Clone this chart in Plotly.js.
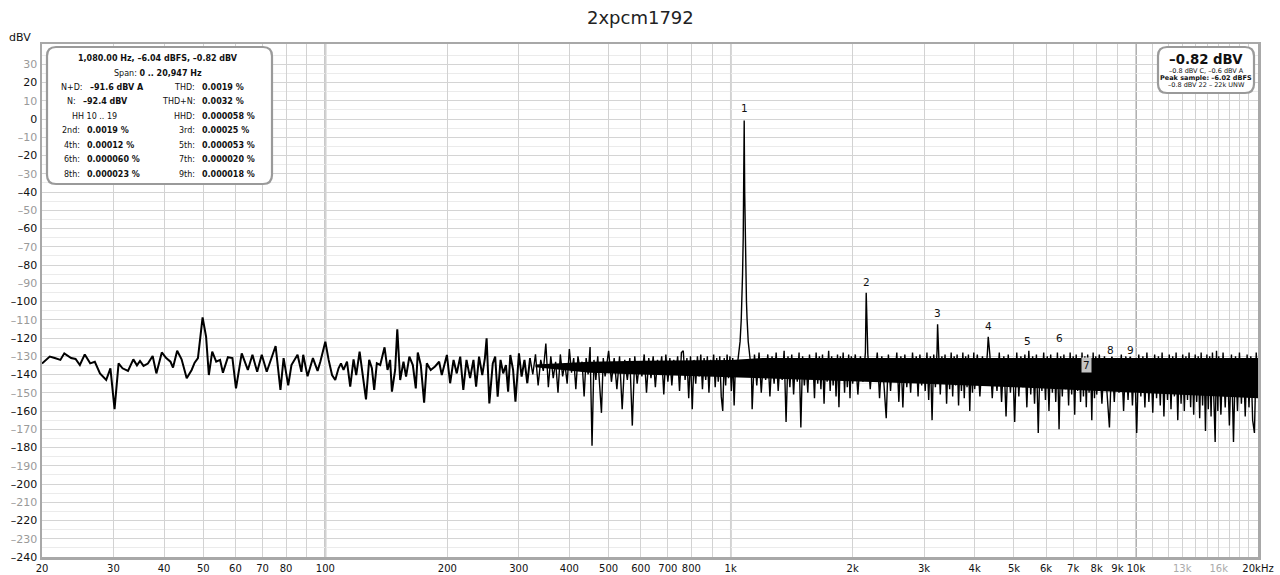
<!DOCTYPE html>
<html><head><meta charset="utf-8">
<script src="https://cdn.plot.ly/plotly-3.0.1.min.js"></script>
<style>html,body{margin:0;padding:0;background:#fff}#chart{width:1280px;height:575px}</style>
</head><body><div id="chart"></div>
<script>
// ---- spectrum data (Hz, dBV) ----
const lowFreq=[20,20.9,21.5,22.2,22.7,23.6,24.2,24.8,25.5,26.3,27.0,27.8,28.8,29.5,30.2,30.9,31.6,32.6,33.6,34.3,34.9,35.6,36.5,37.5,38.3,39.5,40.5,41.5,42.1,43.1,44.2,45.5,46.8,47.6,48.5,49.8,50.8,51.6,52.6,53.8,55,55.9,57.5,59,60.2,62.2,64.4,66.1,67.9,69.7,71.7,75.4,77.5,78.9,81,82.5,85.4,87.3,88.2,90.4,93.2,95.7,97.2,100,101.9,103.9,105.8,107.8,109.3,110.9,113.1,115.2,117.4,119.2,121.5,123.8,126,128.3,130.3,132,134,136.6,140,142.4,144.5,146,148.7,150.5,153,155.9,158.2,161.2,164.4,167.2,169.1,172,175.3,178,182,186.5,190.9,193.8,199.5,203.2,207.2,211,215.2,219,223,227.6,232,235.5,239.5,243.9,247.6,250,253.9,258.9,262.5,266.2,270.6,274.7,279,282.5,286,290.6,294.5,300.4,305,310,315];
const lowLevel=[-134,-130.2,-131,-132,-128.4,-131,-131.5,-134.8,-129,-133.9,-133,-139.4,-143,-136.6,-159,-133.9,-136.6,-138,-131.7,-135,-132.6,-135.3,-134,-129.9,-139.4,-127.9,-131,-133,-136.2,-127,-131.7,-142,-137.5,-133.5,-131,-108.7,-119.3,-140.3,-127.5,-133,-132,-139,-130.5,-131,-147.6,-128.4,-137.5,-129.2,-138.5,-129.2,-138.5,-124.4,-148.5,-131,-146,-134.8,-129.2,-138.5,-129.2,-141,-131,-138,-133,-122,-132,-140.3,-143,-136.6,-133.9,-137.5,-133,-146.7,-131.7,-140.3,-127.5,-141.2,-153.6,-132,-136.6,-148.5,-133.9,-134.8,-125.1,-137.5,-132,-149.4,-137.5,-115.2,-143,-133,-141.2,-130.2,-134.8,-147.6,-128,-134.8,-155.4,-133.9,-137.5,-135.6,-133,-140.3,-129.3,-144.8,-132,-139.4,-130.2,-148.5,-132,-142,-132,-146.7,-130.2,-140.3,-131,-120.2,-155.8,-133.9,-130.2,-152.2,-132,-139.4,-134.8,-149.4,-129.3,-137.5,-154.9,-128.4,-141.2,-132,-144.8];

const midAFreq=[320,325,330,335,340,345,350,355,360,365,370,375,380,385,390,395,400,405,410,415,420,425,430,435,440,445,450,455,460,465,470,475,480,485,490,495,500];
const midALevel=[-131,-140,-129,-146,-132,-138,-123,-147,-130,-142,-133,-150,-129,-141,-134,-145,-126,-139,-131,-148,-130,-137,-133,-152,-131,-140,-125,-179,-132,-143,-130,-146,-161,-131,-141,-134,-127];

const midBFreq=[508,516,524,532,540,548,556,564,572,580,588,596,604,612,620,628,636,644,652,660,668,676,684,692,700,708,716,724,732,740,748,756,764,772,780,788,796,804,812,820,828,836,844,852,860,868,876,884,892,900,908,916,924,932,940,948,956,964,972,980,988,996,1004,1012,1020,1028];
const midBLevel=[-144,-131,-148,-130,-159,-132,-143,-131,-168,-130,-145,-133,-141,-129,-150,-131,-142,-130,-147,-132,-139,-130,-151,-129,-144,-131,-146,-132,-140,-130,-149,-128,-127,-143,-131,-153,-130,-159,-132,-145,-130,-141,-129,-148,-131,-143,-130,-150,-132,-140,-129,-147,-131,-144,-130,-152,-160,-131,-146,-129,-142,-130,-149,-131,-157,-133];

const peakFreq=[1035,1045,1055,1062,1066,1070,1074,1077,1079,1080,1081,1083,1086,1090,1094,1098,1105,1115,1125];
const peakLevel=[-138,-130,-122,-110,-100,-85,-65,-40,-15,-0.82,-15,-40,-65,-85,-100,-110,-122,-130,-138];

const bandAFreq=[1130,1145,1160,1175,1190,1205,1220,1235,1250,1265,1280,1295,1310,1325,1340,1355,1370,1385,1400,1415,1430,1445,1460,1475,1490,1505,1520,1535,1550,1565,1580,1595,1610,1625,1640,1655,1670,1685,1700,1715,1730,1745,1760,1775,1790,1805,1820,1835,1850,1865,1880,1895,1910,1925,1940,1955,1970,1985];
const bandALevel=[-159,-129,-146,-128,-150,-131,-143,-129,-152,-130,-145,-128,-149,-132,-143,-127,-166,-130,-147,-129,-151,-131,-144,-128,-169,-130,-146,-133,-150,-129,-142,-131,-153,-128,-145,-130,-148,-129,-156,-132,-144,-127,-149,-130,-146,-131,-152,-129,-158,-130,-143,-128,-150,-131,-147,-129,-153,-130];

const bandBFreq=[2000,2030,2060,2090,2120,2150,2160,2180,2210,2240,2270,2300,2330,2360,2390,2420,2450,2480,2510,2540,2570,2600,2630,2660,2690,2720,2750,2780,2810,2840,2870,2900,2930,2960,2990,3020,3050,3080,3110,3140,3170,3200,3230,3240,3260,3290,3320,3350,3380,3410,3440,3470,3500,3530,3560,3590,3620,3650,3680,3710,3740,3770,3800,3830,3860,3890,3920,3950,3980];
const bandBLevel=[-145,-129,-151,-130,-144,-128,-95.2,-129,-148,-131,-142,-128,-153,-130,-146,-164,-129,-149,-131,-143,-128,-155,-130,-158,-129,-147,-132,-150,-128,-144,-130,-152,-129,-146,-131,-149,-128,-154,-130,-165,-129,-147,-127,-112.5,-128,-151,-130,-145,-129,-156,-131,-148,-128,-152,-130,-146,-129,-157,-131,-149,-128,-153,-130,-147,-129,-160,-131,-150,-128];

const bandCFreq=[4000,4060,4120,4180,4240,4300,4320,4360,4420,4480,4540,4600,4660,4720,4780,4840,4900,4960,5020,5080,5140,5200,5260,5320,5380,5440,5500,5560,5620,5680,5740,5800,5860,5920,5980,6040,6100,6160,6220,6280,6340,6400,6460,6520,6580,6640,6700,6760,6820,6880,6940,7000,7060,7120,7180,7240,7300,7360,7420,7480,7540,7600,7660,7720,7780,7840,7900,7960];
const bandCLevel=[-148,-129,-152,-130,-146,-128,-119.3,-129,-153,-131,-149,-128,-155,-130,-163,-129,-150,-131,-166,-128,-152,-130,-147,-129,-158,-127,-151,-130,-156,-129,-172,-131,-149,-128,-154,-130,-160,-129,-150,-131,-155,-128,-170,-130,-152,-129,-148,-131,-157,-128,-151,-130,-162,-129,-149,-131,-155,-128,-152,-130,-158,-129,-150,-131,-165,-128,-153,-130];

const bandDFreq=[8000,8120,8240,8360,8480,8600,8720,8840,8960,9080,9200,9320,9440,9560,9680,9800,9920,10040,10160,10280,10400,10520,10640,10760,10880,11000,11120,11240,11360,11480,11600,11720,11840,11960,12080,12200,12320,12440,12560,12680,12800,12920,13040,13160,13280,13400,13520,13640,13760,13880,14000,14120,14240,14360,14480,14600,14720,14840,14960,15080,15200,15320,15440,15560,15680,15800,15920];
const bandDLevel=[-151,-129,-156,-130,-153,-169,-128,-155,-131,-150,-129,-160,-130,-154,-128,-157,-131,-172,-129,-152,-130,-158,-128,-155,-131,-161,-129,-153,-130,-157,-128,-163,-131,-154,-129,-159,-130,-152,-128,-165,-131,-156,-129,-160,-130,-154,-128,-158,-131,-162,-129,-155,-130,-164,-128,-157,-131,-171,-129,-159,-130,-163,-128,-156,-177,-127,-160];

const bandEFreq=[16000,16200,16400,16600,16800,17000,17200,17400,17600,17800,18000,18200,18400,18600,18800,19000,19200,19400,19600,19800,20000];
const bandELevel=[-130,-162,-128,-158,-131,-168,-129,-177,-130,-160,-128,-156,-131,-163,-129,-158,-130,-165,-172,-128,-150];

// ---- dense noise floor (solid region of the trace) ----
const noiseBandFreq=[330,450,600,800,1000,1200,2000,3000,5000,8000,12000,16000,20000];
const noiseBandTop=[-134.5,-133,-132.5,-132,-132,-131,-131,-131,-131,-131,-131,-131,-131];
const noiseBandBottom=[-136,-139,-140,-141,-141.5,-142,-143.5,-145,-147,-149,-151,-152,-153];

// ---- harmonic markers ----
const harmonicNum=['1','2','3','4','5','6','7','8','9'];
const harmonicFreq=[1080,2160,3240,4320,5400,6480,7560,8640,9720];
const harmonicLabelLevel=[6,-89.3,-106.3,-113.4,-121.6,-120,-134.8,-126.6,-126.6];

// ---- axis ticks ----
const yTickVals=[30,20,10,0,-10,-20,-30,-40,-50,-60,-70,-80,-90,-100,-110,-120,-130,-140,-150,-160,-170,-180,-190,-200,-210,-220,-230,-240];
const xGridVals=[20,30,40,50,60,70,80,90,100,200,300,400,500,600,700,800,900,1000,2000,3000,4000,5000,6000,7000,8000,9000,10000,11000,12000,13000,14000,15000,16000,17000,18000,19000,20000];
const xTickLabels=['20','30','40','50','60','70','80','','100','200','300','400','500','600','700','800','','1k','2k','3k','4k','5k','6k','7k','8k','9k','10k','','','13k','','','16k','','','','20kHz'];
const xGreyLabels=['13k','16k'];

// ---- text panels ----
const title='2xpcm1792';
const infoHeader=['<b>1,080.00 Hz, –6.04 dBFS, –0.82 dBV</b>','Span: <b>0 .. 20,947 Hz</b>'];
const infoLeftLabel=['N+D:','N:','','2nd:','4th:','6th:','8th:'];
const infoLeftValue=['–91.6 dBV A','–92.4 dBV','','0.0019 %','0.00012 %','0.000060 %','0.000023 %'];
const infoRightLabel=['THD:','THD+N:','HHD:','3rd:','5th:','7th:','9th:'];
const infoRightValue=['0.0019 %','0.0032 %','0.000058 %','0.00025 %','0.000053 %','0.000020 %','0.000018 %'];
const infoHH='HH 10 .. 19';
const levelMain='–0.82 dBV';
const levelLines=['–0.8 dBV C, –0.6 dBV A','<b>Peak sample: –6.02 dBFS</b>','–0.8 dBV 22 – 22k UNW'];

// ---- build ----
const FONT='DejaVu Sans, Lucida Grande, sans-serif';
const L=42,R=1258,T=44,B=557;
const px=x=>(x-L)/(R-L), py=y=>(B-y)/(B-T);
const lx=f=>(Math.log10(f)-Math.log10(20))/3;

const restFreq=[].concat(midAFreq,midBFreq,peakFreq,bandAFreq,bandBFreq,bandCFreq,bandDFreq,bandEFreq);
const restLevel=[].concat(midALevel,midBLevel,peakLevel,bandALevel,bandBLevel,bandCLevel,bandDLevel,bandELevel);

const traces=[
 {x:noiseBandFreq,y:noiseBandTop,type:'scatter',mode:'lines',line:{color:'#000',width:0},hoverinfo:'skip'},
 {x:noiseBandFreq,y:noiseBandBottom,type:'scatter',mode:'lines',line:{color:'#000',width:0},fill:'tonexty',fillcolor:'#000',hoverinfo:'skip'},
 {x:lowFreq.concat([midAFreq[0]]),y:lowLevel.concat([midALevel[0]]),type:'scatter',mode:'lines',line:{color:'#000',width:2},hoverinfo:'skip'},
 {x:restFreq,y:restLevel,type:'scatter',mode:'lines',line:{color:'#000',width:1.4},hoverinfo:'skip'}
];

function rrect(x0,y0,x1,y1,r){
 const a=px(x0),b=px(x1),c=py(y0),d=py(y1),rx=r/(R-L),ry=r/(B-T);
 return `M${a+rx},${c} L${b-rx},${c} Q${b},${c} ${b},${c-ry} L${b},${d+ry} Q${b},${d} ${b-rx},${d} L${a+rx},${d} Q${a},${d} ${a},${d+ry} L${a},${c-ry} Q${a},${c} ${a+rx},${c} Z`;
}

const shapes=[
 {type:'line',xref:'paper',yref:'paper',x0:lx(100),x1:lx(100),y0:0,y1:1,line:{color:'#b0b0b0',width:2},layer:'below'},
 {type:'line',xref:'paper',yref:'paper',x0:lx(1000),x1:lx(1000),y0:0,y1:1,line:{color:'#7a7a7a',width:1.3},layer:'below'},
 {type:'line',xref:'paper',yref:'paper',x0:lx(10000),x1:lx(10000),y0:0,y1:1,line:{color:'#5a5a5a',width:1},layer:'below'},
 {type:'path',xref:'paper',yref:'paper',path:rrect(47,47,272,184,9),fillcolor:'#fff',line:{color:'#9a9a9a',width:2.2},layer:'above'},
 {type:'path',xref:'paper',yref:'paper',path:rrect(1158,47,1254,93,9),fillcolor:'#fff',line:{color:'#9a9a9a',width:2.2},layer:'above'}
];

const ann=[];
const A=(x,y,text,size,xanchor,extra)=>ann.push(Object.assign({xref:'paper',yref:'paper',x:px(x),y:py(y),text:text,showarrow:false,xanchor:xanchor||'center',yanchor:'middle',font:{family:FONT,size:size,color:'#111'}},extra||{}));
A(20,37,'dBV',11,'center');
A(158,58.3,infoHeader[0],8);
A(158,73.3,infoHeader[1],8);
const rowY=[87.3,101.7,116,130.7,145,159.3,174];
const leftColon=[85,78,0,82,82,82,82];
for(let i=0;i<rowY.length;i++){
  if(infoLeftLabel[i]){
    A(leftColon[i],rowY[i],infoLeftLabel[i],8,'right');
    A(leftColon[i]+3,rowY[i],'<b>'+infoLeftValue[i]+'</b>',8,'left');
  } else {
    A(94.5,rowY[i],infoHH,8);
  }
  A(197,rowY[i],infoRightLabel[i],8,'right');
  A(200,rowY[i],'<b>'+infoRightValue[i]+'</b>',8,'left');
}
A(1206,59,'<b>'+levelMain+'</b>',13.3);
A(1206,70.5,levelLines[0],6.5);
A(1206,78,levelLines[1],6.5);
A(1206,85.5,levelLines[2],6.5);
A(640,17,title,18,'center',{font:{family:FONT,size:18,color:'#222'}});
// harmonic labels (data coords, log axis)
for(let i=0;i<harmonicNum.length;i++){
  const o={xref:'x',yref:'y',x:Math.log10(harmonicFreq[i]),y:harmonicLabelLevel[i],text:harmonicNum[i],showarrow:false,xanchor:'center',yanchor:'middle',font:{family:FONT,size:10.5,color:'#111'}};
  if(i===6){o.bgcolor='#c4c4c4';o.borderpad=1;}
  if(i>=7){o.bgcolor='#fff';o.borderpad=0;}
  ann.push(o);
}

const yText=yTickVals.map(v=>{const s=(v<0?'–':'')+Math.abs(v);return (v%20===0)?'<span style="color:#111">'+s+'</span>':'<span style="color:#9a9a9a">'+s+'</span>';});
const xText=xTickLabels.map(t=>xGreyLabels.includes(t)?'<span style="color:#aaa">'+t+'</span>':t);

const layout={
 width:1280,height:575,margin:{l:L,r:1280-R,t:T,b:575-B},
 paper_bgcolor:'#fff',plot_bgcolor:'#fff',showlegend:false,
 xaxis:{type:'log',range:[Math.log10(20),Math.log10(20000)],tickmode:'array',tickvals:xGridVals,ticktext:xText,tickangle:0,
   showgrid:true,gridcolor:'#d2d2d2',gridwidth:1,zeroline:false,ticks:'',ticklen:0,automargin:false,
   showline:true,mirror:true,linecolor:'#a8a8a8',linewidth:2.5,
   tickfont:{family:FONT,size:10,color:'#111'}},
 yaxis:{range:[-240,41.1],tickmode:'array',tickvals:yTickVals,ticktext:yText,automargin:false,
   showgrid:true,gridcolor:'#d4d4d4',gridwidth:1,zeroline:false,ticks:'',
   minor:{tickmode:'linear',tick0:-235,dtick:10,showgrid:true,gridcolor:'#ebebeb',gridwidth:1,ticks:''},
   showline:true,mirror:true,linecolor:'#a8a8a8',linewidth:2.5,
   tickfont:{family:FONT,size:11,color:'#111'}},
 shapes:shapes,annotations:ann
};
Plotly.newPlot('chart',traces,layout,{staticPlot:true,displayModeBar:false});
</script></body></html>
